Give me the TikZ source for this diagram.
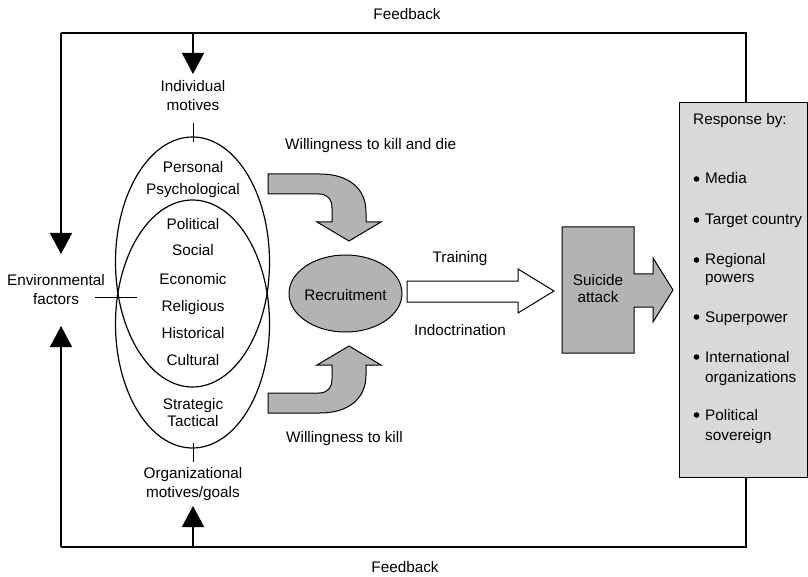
\documentclass[tikz,border=0pt]{standalone}
\usepackage{fontspec}
\setmainfont{Liberation Sans}
\usetikzlibrary{arrows.meta,shapes.geometric}
\definecolor{arrowgray}{HTML}{B3B3B3}
\definecolor{boxgray}{HTML}{D9D9D9}
\tikzset{
  lbl/.style={font=\fontsize{15.3}{19}\selectfont, inner sep=0pt, anchor=base},
  lblw/.style={lbl, anchor=base west},
  fbline/.style={line width=1.6pt},
  fbarrow/.style={line width=1.5pt, -{Triangle[width=22pt,length=21pt]}},
  venn/.style={draw, ellipse, line width=1.2pt, inner sep=0pt},
  block/.style={draw, line width=1pt, fill=arrowgray, line join=miter},
  tickmark/.style={line width=1pt},
}
\begin{document}
\begin{tikzpicture}[x=1pt,y=-1pt]
\useasboundingbox (0,0) rectangle (808,577);

% feedback frame coordinates
\coordinate (fbTR) at (746,33);
\coordinate (fbTL) at (61,33);
\coordinate (fbBR) at (746,547);
\coordinate (fbBL) at (61,547);
\coordinate (indivTop) at (193,33);
\coordinate (orgBot) at (193,547);
\coordinate (envInA) at (61,254);
\coordinate (envInB) at (61,326);
\coordinate (indivIn) at (193,74);
\coordinate (orgIn) at (193,506);

% response box
\node[draw, line width=1pt, fill=boxgray, minimum width=128pt, minimum height=374pt, inner sep=0pt] (resp) at (743,290) {};

% feedback lines
\draw[fbline] (resp.north -| fbTR) -- (fbTR) -- (fbTL);
\draw[fbline] (resp.south -| fbBR) -- (fbBR) -- (fbBL);
\draw[fbarrow] (fbTL) -- (envInA);
\draw[fbarrow] (fbBL) -- (envInB);
\draw[fbarrow] (indivTop) -- (indivIn);
\draw[fbarrow] (orgBot) -- (orgIn);

\node[lbl] (fbtop) at (407,20) {Feedback};
\node[lbl] (fbbot) at (405,572) {Feedback};

% venn ellipses
\node[venn, minimum width=154pt, minimum height=250pt] (upE) at (192.5,262) {};
\node[venn, minimum width=154pt, minimum height=248pt] (lowE) at (192.5,324) {};

% tick marks
\draw[tickmark] (193,123) -- (193,142);
\draw[tickmark] (193,443) -- (193,462);
\draw[tickmark] (95,297) -- (137,297);

% labels around ellipses
\node[lbl] (ind1) at (193,92) {Individual};
\node[lbl] (ind2) at (193,111) {motives};
\node[lbl] (org1) at (193,478) {Organizational};
\node[lbl] (org2) at (193,497) {motives/goals};
\node[lbl] (env1) at (56,285) {Environmental};
\node[lbl] (env2) at (56,304) {factors};

% texts inside ellipses
\node[lbl] (t1) at (193,173) {Personal};
\node[lbl] (t2) at (193,195) {Psychological};
\node[lbl] (t3) at (193,230) {Political};
\node[lbl] (t4) at (193,256) {Social};
\node[lbl] (t5) at (193,284) {Economic};
\node[lbl] (t6) at (193,311) {Religious};
\node[lbl] (t7) at (193,338) {Historical};
\node[lbl] (t8) at (193,365) {Cultural};
\node[lbl] (t9) at (193,409) {Strategic};
\node[lbl] (t10) at (193,426) {Tactical};

% recruitment
\node[draw, ellipse, fill=arrowgray, line width=1pt, minimum width=113pt, minimum height=77pt, inner sep=0pt] (recr) at (345.5,293.5) {};
\node[lbl] (recrt) at (345.5,300) {Recruitment};

% curved arrows
\draw[block] (268,174) -- (320,174) .. controls (348,174) and (366,188) .. (366,212) -- (366,222)
  -- (381,222) -- (349,241) -- (317,222) -- (332,222) -- (332,208)
  .. controls (332,199) and (327,194) .. (319,194) -- (268,194) -- cycle;
\draw[block] (268,413) -- (320,413) .. controls (348,413) and (366,399) .. (366,375) -- (366,365)
  -- (381,365) -- (349,346) -- (317,365) -- (332,365) -- (332,379)
  .. controls (332,388) and (327,393) .. (319,393) -- (268,393) -- cycle;
\node[lblw] (will1) at (285,150) {Willingness to kill and die};
\node[lblw] (will2) at (286,442) {Willingness to kill};

% training arrow
\draw[line width=1pt, fill=white, line join=miter] (407,281) -- (518,281) -- (518,269) -- (554,291)
  -- (518,313) -- (518,302) -- (407,302) -- cycle;
\node[lbl] (train) at (460,263) {Training};
\node[lbl] (indoc) at (460,335) {Indoctrination};

% suicide attack block with arrow
\draw[block] (562,227) -- (634,227) -- (634,274) -- (653,274) -- (653,258) -- (673,290)
  -- (653,322) -- (653,307) -- (634,307) -- (634,353) -- (562,353) -- cycle;
\node[lbl] (sui1) at (598,285) {Suicide};
\node[lbl] (sui2) at (598,302) {attack};

% response list
\node[lblw] (r0) at (693,125) {Response by:};
\foreach \n/\y/\t in {a/184/Media, b/225/Target country, c/265/Regional, d/322/Superpower, e/362/International, f/420/Political}{
  \fill (696.5,\y-5) circle (2.8pt);
  \node[lblw] (r\n) at (705,\y) {\t};
}
\node[lblw] (rc2) at (705,283) {powers};
\node[lblw] (re2) at (705,382) {organizations};
\node[lblw] (rf2) at (705,440) {sovereign};
\end{tikzpicture}
\end{document}
